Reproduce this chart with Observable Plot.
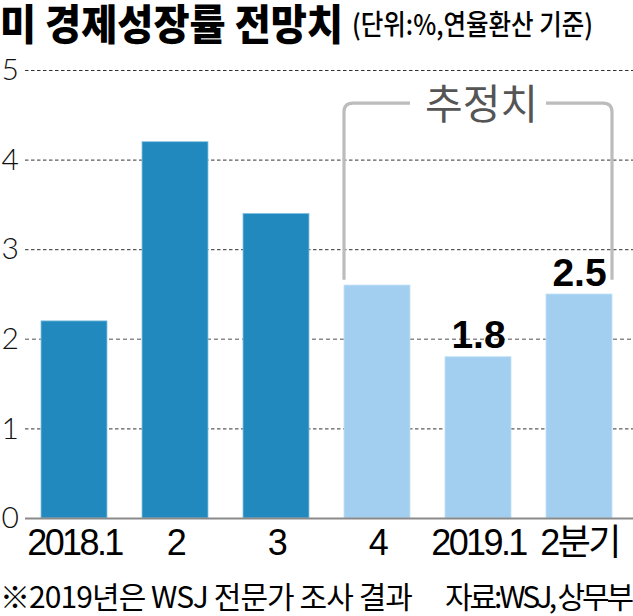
<!DOCTYPE html>
<html>
<head>
<meta charset="utf-8">
<script src="https://cdn.jsdelivr.net/npm/d3@7"></script>
<script src="https://cdn.jsdelivr.net/npm/@observablehq/plot@0.6"></script>
<style>
  html, body { margin: 0; padding: 0; background: #fff; }
  body { width: 633px; height: 616px; overflow: hidden; position: relative;
         font-family: "Noto Sans CJK KR", "Noto Sans", sans-serif; color: #000; }
  .fit { position: absolute; white-space: nowrap; line-height: 1.1; display: inline-block; }
  #title { left: 0; top: -1px; font-size: 42px; font-weight: 900; transform-origin: left top; }
  #subtitle { left: 352px; top: 8px; font-size: 28px; font-weight: 500; transform-origin: left top; }
  #note { left: 0; top: 579px; font-size: 30px; }
  #source { left: 445px; top: 579px; font-size: 30px; }
  #chart { position: absolute; left: 0; top: 50px; }
  g[aria-label="x-axis tick label"] text { letter-spacing: -2.6px; }
  g[aria-label="value-label"] text { letter-spacing: -3px; }
  g[aria-label="estimate-label"] text { letter-spacing: -3px; }
</style>
</head>
<body>
<div id="title" class="fit"></div>
<div id="subtitle" class="fit"></div>
<div id="chart"></div>
<div id="note" class="fit"></div>
<div id="source" class="fit"></div>
<script>
// ---- data ----
const quarters = ["2018.1", "2", "3", "4", "2019.1", "2분기"];
const growth = [2.2, 4.2, 3.4, 2.6, 1.8, 2.5];
const isEstimate = [false, false, false, true, true, true];
const valueLabels = ["", "", "", "", "1.8", "2.5"];
const yTicks = [0, 1, 2, 3, 4, 5];
const estimateLabel = "추정치";
const titleText = "미 경제성장률 전망치";
const subtitleText = "(단위:%,연율환산 기준)";
const noteText = "※2019년은 WSJ 전문가 조사 결과";
const sourceText = "자료:WSJ, 상무부";

const data = quarters.map((q, i) => ({q, v: growth[i], est: isEstimate[i], label: valueLabels[i]}));

// ---- styling ----
const dark = "#2189bd";
const light = "#a2cff0";
const numFont = "'Liberation Sans', Arial, 'Noto Sans CJK KR', sans-serif";
const bracketSpec = {from: "4", to: "2분기", low: 2.66, high: 4.63};

function bracketMark(index, scales) {
  const sx = scales.x, sy = scales.y;
  let bw = typeof sx.bandwidth === "function" ? sx.bandwidth() : sx.bandwidth;
  if (!(bw > 0)) bw = (sx(quarters[1]) - sx(quarters[0])) * 0.65;
  const x0 = sx(bracketSpec.from), x1 = sx(bracketSpec.to) + bw;
  const yTop = sy(bracketSpec.high), yBot = sy(bracketSpec.low);
  const r = 9;
  const d = `M${x0},${yBot} V${yTop + r} Q${x0},${yTop} ${x0 + r},${yTop} H${x0 + bw}` +
            ` M${x1 - bw},${yTop} H${x1 - r} Q${x1},${yTop} ${x1},${yTop + r} V${yBot}`;
  const p = document.createElementNS("http://www.w3.org/2000/svg", "path");
  p.setAttribute("d", d);
  p.setAttribute("fill", "none");
  p.setAttribute("stroke", "#bcbcbc");
  p.setAttribute("stroke-width", 3.2);
  return p;
}

const chart = Plot.plot({
  width: 633,
  height: 530,
  marginLeft: 25,
  marginRight: 0,
  marginTop: 20,
  marginBottom: 62,
  x: {domain: quarters, range: [40, 612], paddingInner: 0.35, paddingOuter: 0},
  y: {domain: [0, 5]},
  color: {type: "identity"},
  style: {fontFamily: numFont, background: "white", overflow: "visible"},
  marks: [
    Plot.ruleY(yTicks.filter(t => t > 0 && t !== 2), {stroke: "#333", strokeWidth: 1, strokeDasharray: "3.5,2.5"}),
    Plot.ruleY(yTicks.filter(t => t === 2), {stroke: "#8a8a8a", strokeWidth: 1.6, strokeDasharray: "4,3"}),
    Plot.barY(data, {x: "q", y: "v", fill: d => d.est ? light : dark, stroke: d => d.est ? "#c4e2f6" : "#8cc4e2", strokeWidth: 0.8}),
    Plot.ruleY([0], {stroke: "#8a8a8a", strokeWidth: 2}),
    bracketMark,
    Plot.text([{q: "2019.1", y: bracketSpec.high, t: estimateLabel}], {
      x: "q", y: "y", text: "t", fontSize: 41, fill: "#555", ariaLabel: "estimate-label",
      fontFamily: "'Noto Sans CJK KR', sans-serif", dx: 3, dy: 2
    }),
    Plot.text(data.filter(d => d.label), {
      x: "q", y: "v", text: "label", dy: -9, lineAnchor: "bottom", ariaLabel: "value-label",
      fontSize: 39, fontWeight: "bold", fill: "#000", fontFamily: numFont
    }),
    Plot.axisX({tickSize: 0, tickPadding: 11, fontSize: 36, label: null, fill: "#000", fontFamily: numFont}),
    Plot.axisY(yTicks, {tickSize: 0, tickPadding: 3, textAnchor: "start", dx: -21, fontSize: 30, fontWeight: 300,
      label: null, fill: "#111", fontFamily: "Lato, 'Liberation Sans', sans-serif", tickFormat: d => `${d}`})
  ]
});
document.getElementById("chart").appendChild(chart);

// ---- text blocks ----
function fitScale(id, text, targetWidth) {
  const el = document.getElementById(id);
  el.textContent = text;
  const w = el.getBoundingClientRect().width;
  if (w > 0) el.style.transform = `scaleX(${targetWidth / w})`;
}
function fitSpacing(id, text, targetWidth) {
  const el = document.getElementById(id);
  el.textContent = text;
  const w = el.getBoundingClientRect().width;
  const n = [...text].length;
  if (w > 0) el.style.letterSpacing = `${(targetWidth - w) / n}px`;
}
fitScale("title", titleText, 343);
fitScale("subtitle", subtitleText, 241);
fitSpacing("note", noteText, 412);
fitSpacing("source", sourceText, 186);
</script>
</body>
</html>
